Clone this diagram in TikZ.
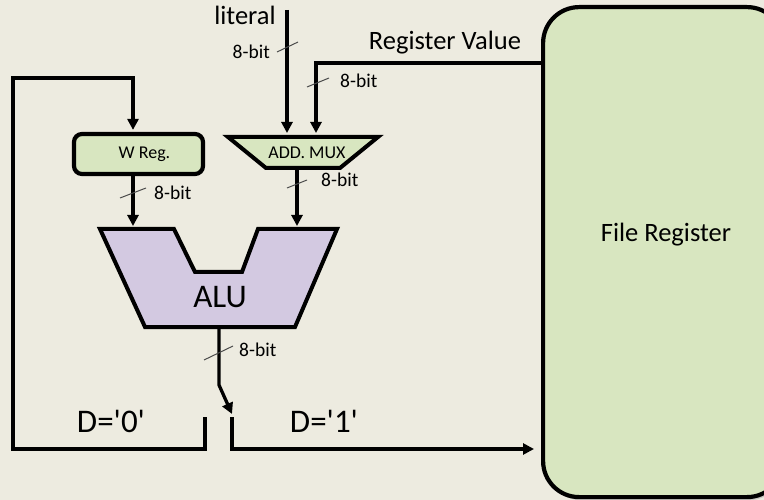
\documentclass[tikz,border=0pt]{standalone}
\usepackage{fontspec}
\setmainfont{Carlito}
\usetikzlibrary{calc,positioning,arrows.meta,shadows}
\definecolor{picbg}{HTML}{EDEBE0}
\definecolor{reggreen}{HTML}{D8E6C0}
\definecolor{alupurple}{HTML}{D3C9E1}
\definecolor{tickgrey}{HTML}{4A4A4A}

\tikzset{
  wire/.style={line width=3.3pt, -{Triangle[length=11pt,width=11pt]}},
  regbox/.style={draw, line width=4.2pt, fill=reggreen, rounded corners=8pt},
  unitbox/.style={draw, line width=4pt, line join=miter},
  tick/.style={draw=tickgrey, line width=1pt},
  bitlbl/.style={font=\fontsize{19.5}{19.5}\selectfont, inner sep=1pt},
  smalllbl/.style={font=\fontsize{18}{18}\selectfont},
  bigtext/.style={font=\fontsize{26.5}{26.5}\selectfont, inner sep=0pt},
  hugetext/.style={font=\fontsize{33}{33}\selectfont, inner sep=0pt},
}

\begin{document}
\begin{tikzpicture}[x=1pt, y=-1pt]
  \useasboundingbox (0,0) rectangle (764,500);
  \clip (0,0) rectangle (764,500);
  \fill[picbg] (0,0) rectangle (764,500);

  % file register, cut by the right edge
  \node[regbox, rounded corners=36pt, minimum width=240pt, minimum height=490pt,
    anchor=north west, drop shadow={shadow xshift=2pt, shadow yshift=-3pt, fill=gray!70}]
    (filereg) at (541,5) {};
  \node[bigtext, anchor=base] (frlabel) at (666,242) {File Register};

  % W register
  \node[regbox, minimum width=129pt, minimum height=40pt, smalllbl] (wreg) at (138.5,154) {\hspace{12pt}W Reg.};

  % address mux
  \draw[unitbox, fill=reggreen] (228,137) -- (378,137) -- (340,168) -- (266,168) -- cycle;
  \node[smalllbl] (mux) at (307,153) {ADD. MUX};
  \coordinate (muxinL) at (287,137);
  \coordinate (muxinR) at (316,137);
  \coordinate (muxout) at (297,170);

  % ALU
  \draw[unitbox, fill=alupurple] (100,229) -- (174,229) -- (195,272) -- (242,272)
    -- (258,229) -- (337,229) -- (295,327) -- (145,327) -- cycle;
  \node[hugetext, anchor=base] (alu) at (220,308) {ALU};
  \coordinate (aluinW) at (133,229);
  \coordinate (aluinM) at (297,229);
  \coordinate (aluout) at (219,327);

  % inputs
  \node[bigtext, anchor=base] (lit) at (245,25) {literal};
  \coordinate (litin) at (287,10);
  \node[bigtext, anchor=base] (regv) at (445,50) {Register Value};
  \coordinate (regcorner) at (316,63);

  \draw[wire, shorten >=4pt] (litin) -- (muxinL);
  \draw[wire, shorten >=4pt] (regcorner -| filereg.west) -- (regcorner) -- (muxinR);
  \draw[wire, shorten >=3pt] (muxout) -- (aluinM);
  \draw[wire, shorten >=3pt] (wreg.south -| aluinW) -- (aluinW);

  % destination switch
  \coordinate (swtip) at (232,414);
  \coordinate (sw0) at (205,417);
  \coordinate (sw1) at (232,417);
  \coordinate (fbbot) at (13,449);
  \coordinate (fbtop) at (13,78);
  \coordinate (d1corner) at (232,449);

  \draw[wire] (aluout) -- ++(0,58) -- (swtip);
  \draw[wire, shorten >=2pt] (sw0) |- (fbbot) -- (fbtop) -| (wreg.north -| aluinW);
  \draw[wire, shorten >=7pt] (sw1) -- (d1corner) -- (d1corner -| filereg.west);

  \node[hugetext, anchor=base] (dzero) at (111,432) {D=\textquotesingle 0\textquotesingle};
  \node[hugetext, anchor=base] (done) at (324,432) {D=\textquotesingle 1\textquotesingle};

  % bus widths
  \draw[tick] (277,52) -- (298,42);
  \node[bitlbl, anchor=east] (bitlit) at (271,52) {8-bit};
  \draw[tick] (307,87) -- (329,78);
  \node[bitlbl, anchor=west] (bitreg) at (339,81) {8-bit};
  \draw[tick] (120,198) -- (146,188);
  \node[bitlbl, anchor=west] (bitw) at (153,193) {8-bit};
  \draw[tick] (287,188) -- (307,180);
  \node[bitlbl, anchor=west] (bitmux) at (320,180) {8-bit};
  \draw[tick] (204,360) -- (233,346);
  \node[bitlbl, anchor=west] (bitalu) at (238,350) {8-bit};
\end{tikzpicture}
\end{document}
